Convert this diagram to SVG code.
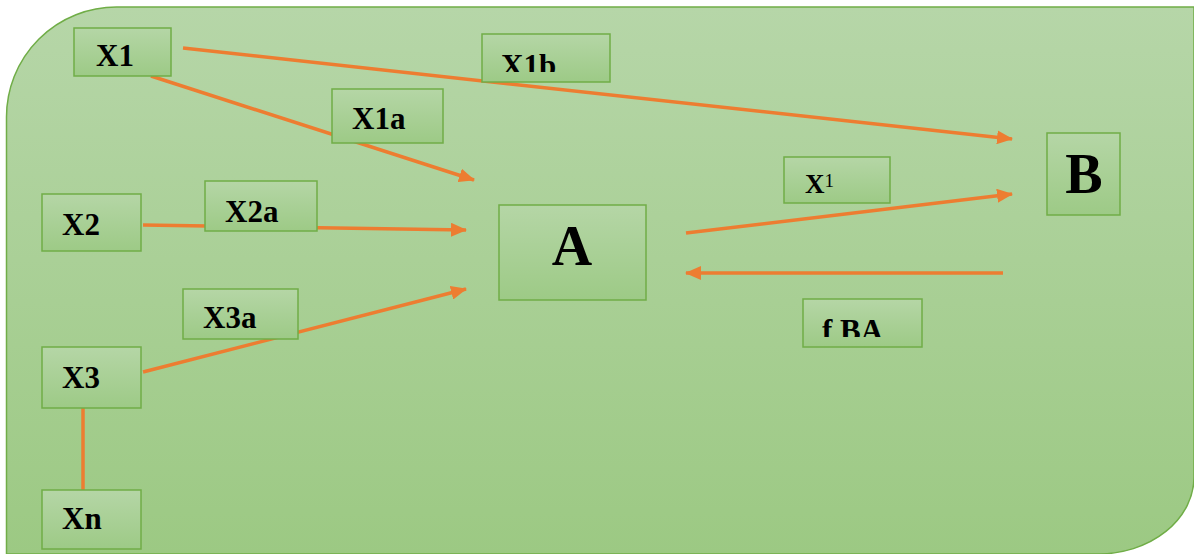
<svg xmlns="http://www.w3.org/2000/svg" width="1194" height="554" viewBox="0 0 1194 554">
<defs>
<linearGradient id="bg" x1="0" y1="0" x2="0" y2="1">
<stop offset="0" stop-color="#b6d6a8"/>
<stop offset="1" stop-color="#9cc983"/>
</linearGradient>
<linearGradient id="box" x1="0" y1="0" x2="0" y2="1">
<stop offset="0" stop-color="#b5d6a6"/>
<stop offset="1" stop-color="#9dca86"/>
</linearGradient>
<marker id="arr" markerUnits="userSpaceOnUse" markerWidth="16" markerHeight="14" refX="15" refY="7" orient="auto">
<path d="M0,0 L16,7 L0,14 z" fill="#ed7d31"/>
</marker>
<clipPath id="c1"><rect x="482" y="34" width="128" height="38"/></clipPath>
<clipPath id="c2"><rect x="803" y="299" width="119" height="38"/></clipPath>
<style>
.n{fill:url(#box);stroke:#70ad47;stroke-width:1.5}
.t{font-family:"Liberation Serif","Times New Roman",serif;font-weight:bold;font-size:31px;fill:#000}
.big{font-size:56px;text-anchor:middle}
.c{stroke:#ed7d31;stroke-width:3.5;fill:none}
.a{marker-end:url(#arr)}
</style>
</defs>
<path d="M6.5,117 A110,110 0 0 1 116.5,7 L1194,7 L1194,477 A96,77 0 0 1 1098,554 L6.5,554 Z" fill="url(#bg)" stroke="#70ad47" stroke-width="1.5"/>
<g id="connectors">
<line class="c a" x1="151" y1="76" x2="474" y2="180"/>
<line class="c a" x1="183" y1="48" x2="1012" y2="139"/>
<line class="c a" x1="143" y1="225" x2="466" y2="230"/>
<line class="c a" x1="143" y1="372" x2="466" y2="289"/>
<line class="c" x1="83" y1="408" x2="83" y2="490"/>
<line class="c a" x1="686" y1="233" x2="1012" y2="194"/>
<line class="c a" x1="1003" y1="273" x2="686" y2="273"/>
</g>
<g id="X1"><rect class="n" x="74" y="28" width="97" height="48"/><text class="t" x="96" y="66">X1</text></g>
<g id="X1a"><rect class="n" x="332" y="89" width="111" height="54"/><text class="t" x="352" y="129">X1a</text></g>
<g id="X1b"><rect class="n" x="482" y="34" width="128" height="48"/><text class="t" x="501" y="76" clip-path="url(#c1)">X1b</text></g>
<g id="X2"><rect class="n" x="42" y="194" width="99" height="57"/><text class="t" x="62" y="235">X2</text></g>
<g id="X2a"><rect class="n" x="205" y="181" width="112" height="50"/><text class="t" x="225" y="222">X2a</text></g>
<g id="A"><rect class="n" x="499" y="205" width="147" height="95"/><text class="t big" x="572" y="265">A</text></g>
<g id="X1sup"><rect class="n" x="784" y="157" width="106" height="46"/><text class="t" x="805" y="193" style="font-size:27px">X<tspan dy="-6" style="font-size:19px;font-weight:normal">1</tspan></text></g>
<g id="B"><rect class="n" x="1047" y="133" width="73" height="82"/><text class="t big" x="1084" y="193">B</text></g>
<g id="fBA"><rect class="n" x="803" y="299" width="119" height="48"/><text class="t" x="822" y="341" clip-path="url(#c2)">f BA</text></g>
<g id="X3a"><rect class="n" x="183" y="289" width="115" height="50"/><text class="t" x="203" y="328">X3a</text></g>
<g id="X3"><rect class="n" x="42" y="347" width="99" height="61"/><text class="t" x="62" y="388">X3</text></g>
<g id="Xn"><rect class="n" x="42" y="490" width="99" height="59"/><text class="t" x="62" y="529">Xn</text></g>
</svg>
